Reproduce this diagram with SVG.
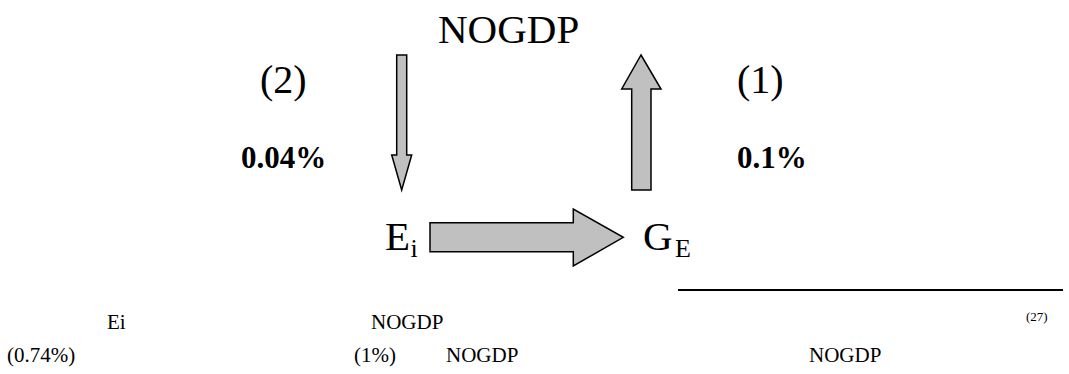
<svg xmlns="http://www.w3.org/2000/svg" width="1069" height="374" viewBox="0 0 1069 374">
  <style>
    text { font-family: 'Liberation Serif', Tinos, 'Times New Roman', 'Nimbus Roman', 'DejaVu Serif', serif; fill: #000; }
    .big { font-size: 41px; }
    .tag { font-size: 40px; }
    .pct { font-size: 31px; font-weight: bold; }
    .sub { font-size: 26px; }
    .body { font-size: 21px; }
    .note { font-size: 13px; }
    .arrow { fill: #c0c0c0; stroke: #000; stroke-width: 1.5; stroke-linejoin: miter; }
  </style>
  <rect width="1069" height="374" fill="#fff"/>

  <!-- block arrows between the variables -->
  <g id="connectors">
    <!-- NOGDP -> Ei (thin, down) -->
    <polygon class="arrow" points="396.7,55 406.7,55 406.7,155 411.7,155 401.7,190 391.7,155 396.7,155"/>
    <!-- GE -> NOGDP (thick, up) -->
    <polygon class="arrow" points="641,55 661,89 651,89 651,190 631.7,190 631.7,89 621.7,89"/>
    <!-- Ei -> GE (wide, right) -->
    <polygon class="arrow" points="430,222.7 573.3,222.7 573.3,209 623.3,237.3 573.3,266 573.3,251.7 430,251.7"/>
  </g>

  <g id="node-nogdp">
    <text class="big" x="438" y="43" font-family="Liberation Serif, serif">NOGDP</text>
  </g>
  <g id="node-ei">
    <text class="big" x="385" y="250" font-family="Liberation Serif, serif">E<tspan class="sub" x="410.5" y="257">i</tspan></text>
  </g>
  <g id="node-ge">
    <text class="big" x="643" y="250" font-family="Liberation Serif, serif">G<tspan class="sub" x="675" y="257">E</tspan></text>
  </g>

  <g id="label-2">
    <text class="tag" x="260" y="93">(2)</text>
    <text class="pct" x="241" y="168">0.04%</text>
  </g>
  <g id="label-1">
    <text class="tag" x="737" y="93">(1)</text>
    <text class="pct" x="737" y="168">0.1%</text>
  </g>

  <!-- footnote rule and running text -->
  <g id="footer">
    <line x1="678" y1="290" x2="1063" y2="290" stroke="#000" stroke-width="2"/>
    <text class="body" x="107" y="329">Ei</text>
    <text class="body" x="371" y="329">NOGDP</text>
    <text class="note" x="1026" y="321">(27)</text>
    <text class="body" x="7" y="362">(0.74%)</text>
    <text class="body" x="354" y="362">(1%)</text>
    <text class="body" x="446" y="362">NOGDP</text>
    <text class="body" x="809" y="362">NOGDP</text>
  </g>
</svg>
